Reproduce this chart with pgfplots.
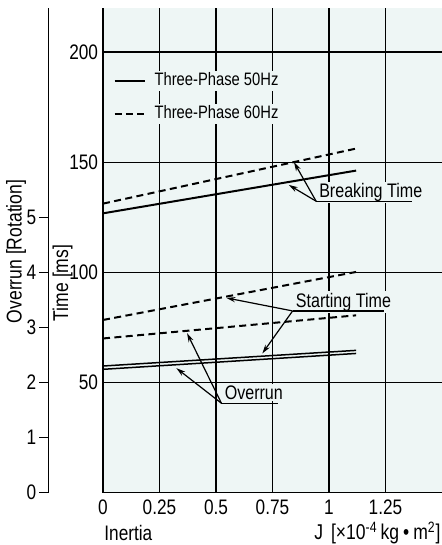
\documentclass[border=0pt]{standalone}
\usepackage{fontspec}
\setmainfont{Liberation Sans}[FakeStretch=0.82]
\usepackage{pgfplots}
\usepackage{pgfplotstable}
\pgfplotsset{compat=1.18}
\usetikzlibrary{arrows.meta}
\definecolor{bg}{RGB}{238,246,245}

\pgfplotstableread{
J    ms
0    126.8
1.12 146.2
}\brakeA
\pgfplotstableread{
J    ms
0    131.2
1.12 156.2
}\brakeB
\pgfplotstableread{
J    ms
0    57.5
1.12 64.6
}\startA
\pgfplotstableread{
J    ms
0    78.4
1.12 100.2
}\startB
\pgfplotstableread{
J    rot
0    2.24
1.12 2.528
}\overA
\pgfplotstableread{
J    rot
0    2.80
1.12 3.22
}\overB

\begin{document}
\fontsize{10.5}{12.5}\selectfont
\begin{tikzpicture}
\useasboundingbox (0,0) rectangle (221pt,272.5pt);
\begin{axis}[
  at={(51.5pt,26.15pt)}, anchor=south west,
  scale only axis, width=169.5pt, height=242.35pt,
  xmin=0, xmax=1.5, ymin=0, ymax=220,
  axis lines*=left,
  axis line style={line width=0.65pt},
  axis background/.style={fill=bg},
  xtick={0,0.25,0.5,0.75,1,1.25},
  xticklabels={0,0.25,0.5,0.75,1,1.25},
  ytick={50,100,150,200},
  major tick length=0pt,
  grid=major, grid style={black, line width=0.62pt},
  /pgf/number format/assume math mode=true,
  ticklabel style={font=\fontsize{10.5}{12.5}\selectfont},
  yticklabel style={xshift=1.2pt},
  clip=false,
  legend style={at={(axis cs:0.045,191.8)}, anchor=north west, draw=none, fill=none,
    inner sep=0pt, row sep=6.5pt, font=\fontsize{9}{10.8}\selectfont,
    nodes={fill=bg, inner sep=1pt},
    /tikz/every odd column/.append style={column sep=3.5pt}},
  legend cell align=left,
  legend image code/.code={\draw[#1] (0pt,0pt) -- (15pt,0pt);},
]
\addplot[black, line width=1pt] table[x=J,y=ms] {\brakeA};
\addlegendentry{Three-Phase 50Hz}
\addplot[black, line width=1pt, dash pattern=on 3.5pt off 2.2pt] table[x=J,y=ms] {\brakeB};
\addlegendentry{Three-Phase 60Hz}
\addplot[black, line width=1pt, dash pattern=on 3.5pt off 2.2pt, forget plot] table[x=J,y=ms] {\startB};
\addplot[black, line width=0.75pt, forget plot] table[x=J,y=ms] {\startA};
\addplot[black, line width=1pt, dash pattern=on 3.5pt off 2.2pt, forget plot] table[x=J,y expr=\thisrow{rot}*25] {\overB};
\addplot[black, line width=0.75pt, forget plot] table[x=J,y expr=\thisrow{rot}*25] {\overA};

% annotations
\node[anchor=base west, fill=bg, inner sep=0.8pt, font=\fontsize{9.8}{11.5}\selectfont] at (axis cs:0.948,134.0) {Breaking Time};
\draw[line width=0.6pt] (axis cs:0.943,132.3) -- (axis cs:1.369,132.3);
\draw[line width=0.6pt, -{Stealth[length=4.5pt,width=2.6pt]}] (axis cs:0.943,132.3) -- (axis cs:0.845,150.0);
\draw[line width=0.6pt, -{Stealth[length=4.5pt,width=2.6pt]}] (axis cs:0.943,132.3) -- (axis cs:0.822,139.7);

\node[anchor=base west, fill=bg, inner sep=0.8pt, font=\fontsize{9.8}{11.5}\selectfont] at (axis cs:0.845,84.2) {Starting Time};
\draw[line width=0.6pt] (axis cs:0.839,82.5) -- (axis cs:1.244,82.5);
\draw[line width=0.6pt, -{Stealth[length=4.5pt,width=2.6pt]}] (axis cs:0.839,82.5) -- (axis cs:0.546,88.4);
\draw[line width=0.6pt, -{Stealth[length=4.5pt,width=2.6pt]}] (axis cs:0.839,82.5) -- (axis cs:0.705,63.2);

\node[anchor=base west, fill=bg, inner sep=0.8pt, font=\fontsize{9.8}{11.5}\selectfont] at (axis cs:0.530,42.3) {Overrun};
\draw[line width=0.6pt] (axis cs:0.524,40.6) -- (axis cs:0.776,40.6);
\draw[line width=0.6pt, -{Stealth[length=4.5pt,width=2.6pt]}] (axis cs:0.524,40.6) -- (axis cs:0.372,72.4);
\draw[line width=0.6pt, -{Stealth[length=4.5pt,width=2.6pt]}] (axis cs:0.524,40.6) -- (axis cs:0.325,56.5);
\end{axis}

\begin{axis}[
  at={(24.15pt,26.15pt)}, anchor=south west,
  scale only axis, width=5pt, height=242.35pt,
  xmin=0, xmax=1, ymin=0, ymax=8.8,
  axis y line*=left, hide x axis,
  axis line style={line width=0.65pt},
  ytick={0,1,2,3,4,5},
  tick align=outside, major tick length=4.6pt,
  tick style={black, line width=0.6pt},
  /pgf/number format/assume math mode=true,
  ticklabel style={font=\fontsize{10.5}{12.5}\selectfont},
  yticklabel style={xshift=2.3pt},
]
\addplot[draw=none] coordinates {(0,0) (1,1)};
\end{axis}

\node[rotate=90, font=\fontsize{10.7}{12.5}\selectfont] at (8pt,146.75pt) {Overrun [Rotation]};
\node[rotate=90, font=\fontsize{10.7}{12.5}\selectfont] at (31.25pt,131pt) {Time [ms]};
\node[anchor=base west, inner sep=0pt] at (52pt,2.4pt) {Inertia};
\node[anchor=base east, inner sep=0pt, font=\fontsize{10.7}{12.5}\selectfont] at (220.5pt,2.5pt) {J\hspace{4pt}[×10\textsuperscript{-4}\hspace{1.5pt}kg\hspace{2pt}•\hspace{2pt}m\textsuperscript{2}]};
\end{tikzpicture}
\end{document}
